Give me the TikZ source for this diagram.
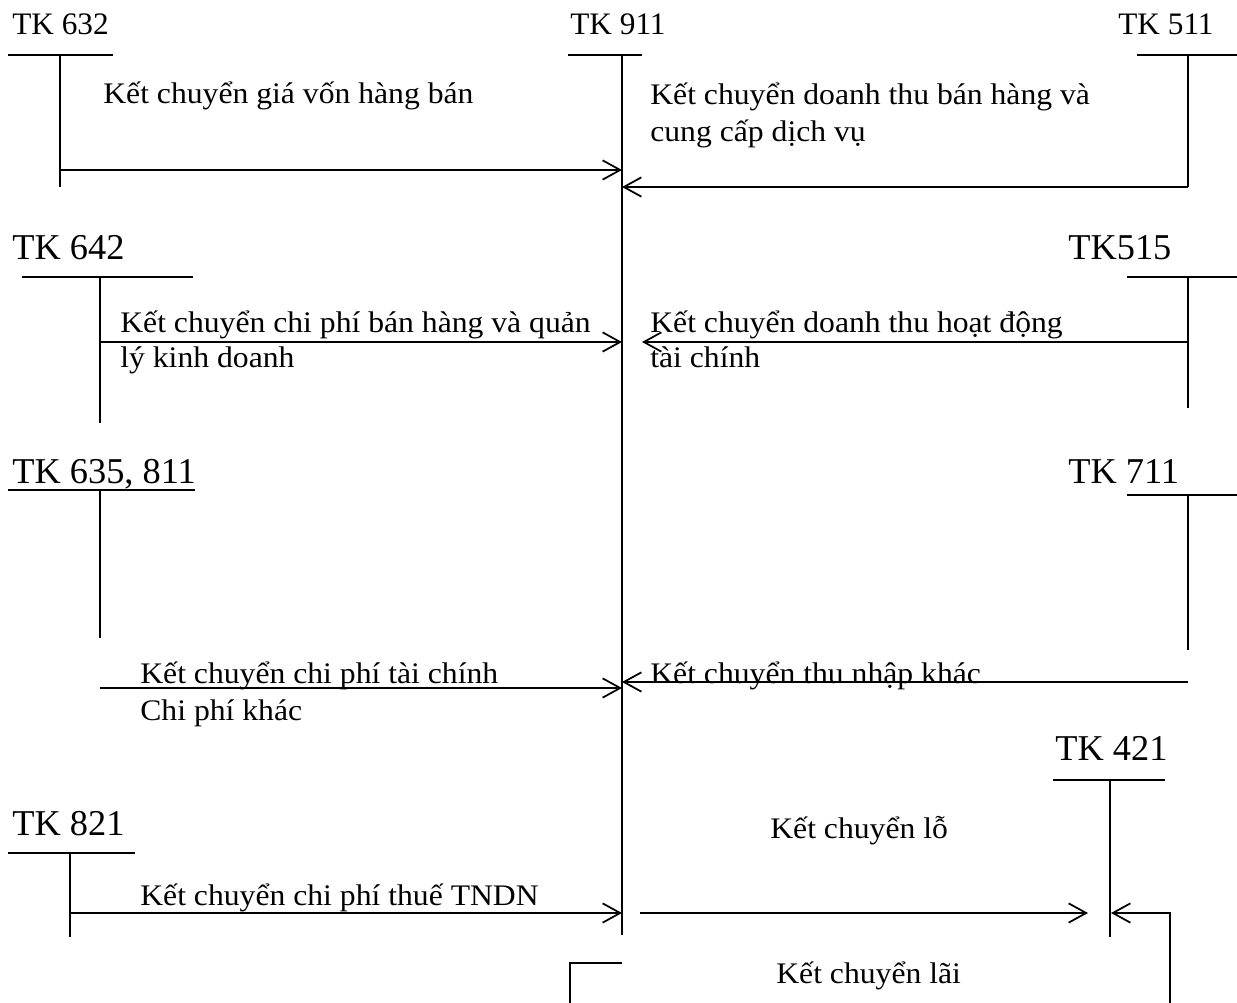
\documentclass[tikz,border=0pt]{standalone}
\usepackage{fontspec}
\setmainfont{Liberation Serif}
\newfontfamily\notefont[FakeStretch=1.06]{Liberation Serif}
\usetikzlibrary{arrows.meta}

\tikzset{
acc/.style={anchor=base west, inner sep=0pt, font=\fontsize{17.8}{20}\selectfont},
bigacc/.style={anchor=base west, inner sep=0pt, font=\fontsize{20.7}{24}\selectfont},
note/.style={anchor=base west, inner sep=0pt, font=\notefont\fontsize{17}{21}\selectfont},
tline/.style={line width=1pt},
flow/.style={line width=1pt, -{Straight Barb[length=10pt,width=11pt]}}
}

\begin{document}
\begin{tikzpicture}[x=0.02cm, y=-0.02cm]
\useasboundingbox (0,0) rectangle (1237,1003);

% accounts (T shapes)
\node[acc] (a632) at (12,35) {TK 632};
\draw[tline] (8,55) -- (113,55) (60,55) -- (60,187);

\node[acc] (a911) at (570,35) {TK 911};
\draw[tline] (568,55) -- (642,55) (622,55) -- (622,935);

\node[acc] (a511) at (1118,35) {TK 511};
\draw[tline] (1137,55) -- (1237,55) (1188,55) -- (1188,187);

\node[bigacc] (a642) at (12,260) {TK 642};
\draw[tline] (22,277) -- (193,277) (100,277) -- (100,423);

\node[bigacc] (a515) at (1068,260) {TK515};
\draw[tline] (1127,277) -- (1237,277) (1188,277) -- (1188,408);

\node[bigacc] (a635) at (12,483) {TK 635, 811};
\draw[tline] (8,490) -- (195,490) (100,490) -- (100,638);

\node[bigacc] (a711) at (1068,483) {TK 711};
\draw[tline] (1127,495) -- (1237,495) (1188,495) -- (1188,650);

\node[bigacc] (a421) at (1055,760) {TK 421};
\draw[tline] (1053,780) -- (1165,780) (1110,780) -- (1110,937);

\node[bigacc] (a821) at (12,835) {TK 821};
\draw[tline] (8,853) -- (135,853) (70,853) -- (70,937);

% connector ends
\coordinate (s632) at (60,170);
\coordinate (e632) at (622,170);
\coordinate (s511) at (1188,187);
\coordinate (e511) at (622,187);
\coordinate (s642) at (100,342);
\coordinate (e642) at (622,342);
\coordinate (s515) at (1188,342);
\coordinate (e515) at (642,342);
\coordinate (s635) at (100,688);
\coordinate (e635) at (622,688);
\coordinate (s711) at (1188,682);
\coordinate (e711) at (622,682);
\coordinate (s821) at (70,913);
\coordinate (e821) at (622,913);
\coordinate (sloss) at (640,913);
\coordinate (eloss) at (1088,913);
\coordinate (sgain) at (622,963);
\coordinate (kgain) at (570,963);
\coordinate (bgain) at (570,1003);
\coordinate (rgain) at (1170,1003);
\coordinate (cgain) at (1170,913);
\coordinate (egain) at (1111,913);

\draw[flow] (s632) -- (e632);
\draw[flow] (s511) -- (e511);
\draw[flow] (s642) -- (e642);
\draw[flow] (s515) -- (e515);
\draw[flow] (s635) -- (e635);
\draw[flow] (s711) -- (e711);
\draw[flow] (s821) -- (e821);
\draw[flow] (sloss) -- (eloss);
\draw[tline] (sgain) -- (kgain) -- (bgain);
\draw[flow] (rgain) -- (cgain) -- (egain);

% labels
\node[note] (l632) at (103,104) {Kết chuyển giá vốn hàng bán};
\node[note] (l511) at (650,105) {Kết chuyển doanh thu bán hàng và};
\node[note] (l511b) at (650,142) {cung cấp dịch vụ};
\node[note] (l642) at (120,333) {Kết chuyển chi phí bán hàng và quản};
\node[note] (l642b) at (120,368) {lý kinh doanh};
\node[note] (l515) at (650,333) {Kết chuyển doanh thu hoạt động};
\node[note] (l515b) at (650,368) {tài chính};
\node[note] (l635) at (140,683) {Kết chuyển chi phí tài chính};
\node[note] (l635b) at (140,720) {Chi phí khác};
\node[note] (l711) at (650,683) {Kết chuyển thu nhập khác};
\node[note] (lloss) at (770,838) {Kết chuyển lỗ};
\node[note] (l821) at (140,905) {Kết chuyển chi phí thuế TNDN};
\node[note] (lgain) at (776,983) {Kết chuyển lãi};

\end{tikzpicture}
\end{document}
